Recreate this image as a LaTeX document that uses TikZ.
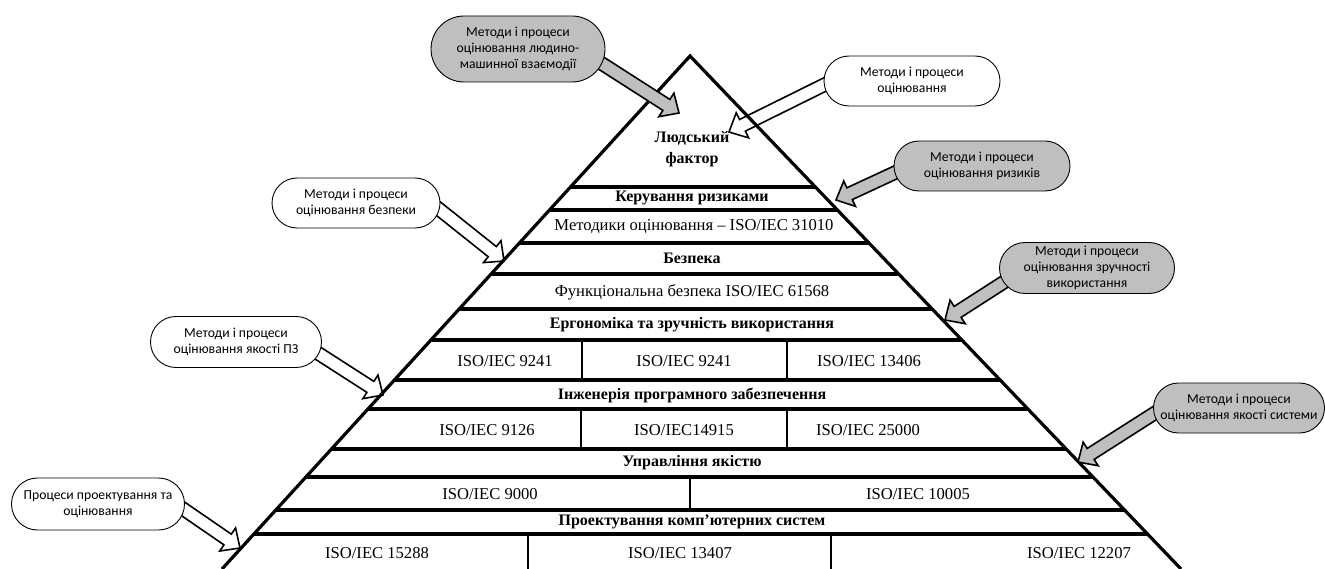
\documentclass[tikz,border=0pt]{standalone}
\usepackage{fontspec}
\setmainfont{Liberation Serif}
\newfontfamily\calfont{Carlito}
\usetikzlibrary{calc,shapes.misc}

\definecolor{calgrey}{RGB}{191,191,191}

\tikzset{
  rule/.style={line width=3.2pt},
  side/.style={line width=3.2pt, line join=miter},
  divider/.style={line width=2.6pt},
  rowtext/.style={font=\fontsize{16.6}{21}\selectfont, inner sep=0pt, align=center},
  rowhead/.style={font=\fontsize{16}{21}\selectfont\bfseries, inner sep=0pt, align=center},
  callout/.style={rounded rectangle, draw, line width=0.9pt, align=center, inner sep=0pt,
    font=\calfont\fontsize{13.7}{16}\selectfont},
  greycall/.style={callout, fill=calgrey},
  whitecall/.style={callout, fill=white},
  greyarrow/.style={draw, line width=1.6pt, fill=calgrey, line join=miter},
  whitearrow/.style={draw, line width=1.6pt, line join=miter},
}

% block arrow: #1 style, #2 tail coordinate, #3 tip coordinate
\newcommand\blockarrow[3]{%
  \coordinate (hb) at ($(#3)!15pt!(#2)$);
  \draw[#1] ($(#2)!6.5pt!90:(#3)$) -- ($(hb)!6.5pt!90:(#3)$) -- ($(hb)!14pt!90:(#3)$)
    -- (#3) -- ($(hb)!14pt!-90:(#3)$) -- ($(hb)!6.5pt!-90:(#3)$)
    -- ($(#2)!6.5pt!-90:(#3)$) -- cycle;
}

\begin{document}
\begin{tikzpicture}[x=1pt,y=-1pt]
\useasboundingbox (0,0) rectangle (1325,569);

% pyramid outline
\coordinate (apex) at (690,56);
\coordinate (bl) at (222,569);
\coordinate (br) at (1181,569);

% layer rules and cell dividers, kept inside the pyramid
\begin{scope}
  \clip (apex) -- (bl) -- (br) -- cycle;
  \foreach \yy in {187,210,243,274,309,340,380,409,449,477,510,534}
    \draw[rule] (0,\yy) -- (1325,\yy);
  \foreach \xx/\ya/\yb in {582/340/380, 787/340/380, 581/409/449, 787/409/449,
                           690/477/510, 528/534/575, 831/534/575}
    \draw[divider] (\xx,\ya) -- (\xx,\yb);
\end{scope}
\draw[side] (bl) -- (apex) -- (br);

% layer texts
\node[rowhead] (hf) at (692,149) {Людський\\фактор};
\node[rowhead] (rm) at (692,198) {Керування ризиками};
\node[rowtext] (me) at (694,227) {Методики оцінювання – ISO/IEC 31010};
\node[rowhead] (sf) at (692,258) {Безпека};
\node[rowtext] (fs) at (692,292) {Функціональна безпека ISO/IEC 61568};
\node[rowhead] (er) at (692,325) {Ергономіка та зручність використання};
\node[rowtext] (e1) at (505,361) {ISO/IEC 9241};
\node[rowtext] (e2) at (684,361) {ISO/IEC 9241};
\node[rowtext] (e3) at (869,361) {ISO/IEC 13406};
\node[rowhead] (se) at (692,395) {Інженерія програмного забезпечення};
\node[rowtext] (s1) at (487,430) {ISO/IEC 9126};
\node[rowtext] (s2) at (684,430) {ISO/IEC14915};
\node[rowtext] (s3) at (868,430) {ISO/IEC 25000};
\node[rowhead] (qm) at (692,463) {Управління якістю};
\node[rowtext] (q1) at (490,494) {ISO/IEC 9000};
\node[rowtext] (q2) at (918,494) {ISO/IEC 10005};
\node[rowhead] (cs) at (692,522) {Проектування комп’ютерних систем};
\node[rowtext] (c1) at (377,553) {ISO/IEC 15288};
\node[rowtext] (c2) at (680,553) {ISO/IEC 13407};
\node[rowtext] (c3) at (1079,553) {ISO/IEC 12207};

% arrow ends
\coordinate (t1) at (590,56);   \coordinate (h1) at (679,113);
\coordinate (t2) at (836,79);   \coordinate (h2) at (729,132);
\coordinate (t3) at (905,168);  \coordinate (h3) at (836,200);
\coordinate (t4) at (430,202);  \coordinate (h4) at (504,261);
\coordinate (t5) at (1015,275); \coordinate (h5) at (945,320);
\coordinate (t6) at (313,350);  \coordinate (h6) at (383,395);
\coordinate (t7) at (1158,411); \coordinate (h7) at (1078,462);
\coordinate (t8) at (176,504);  \coordinate (h8) at (240,548);

\blockarrow{greyarrow}{t1}{h1}
\blockarrow{whitearrow}{t2}{h2}
\blockarrow{greyarrow}{t3}{h3}
\blockarrow{whitearrow}{t4}{h4}
\blockarrow{greyarrow}{t5}{h5}
\blockarrow{whitearrow}{t6}{h6}
\blockarrow{greyarrow}{t7}{h7}
\blockarrow{whitearrow}{t8}{h8}

% callouts
\node[greycall, minimum width=174pt, minimum height=66pt] (k1) at (518,49)
  {Методи і процеси\\оцінювання людино-\\машинної взаємодії};
\node[whitecall, minimum width=176pt, minimum height=50pt] (k2) at (912,81)
  {Методи і процеси\\оцінювання};
\node[greycall, minimum width=176pt, minimum height=50pt] (k3) at (982,166)
  {Методи і процеси\\оцінювання ризиків};
\node[whitecall, minimum width=168pt, minimum height=50pt] (k4) at (356,203)
  {Методи і процеси\\оцінювання безпеки};
\node[greycall, minimum width=175pt, minimum height=51pt] (k5) at (1087,268)
  {Методи і процеси\\оцінювання зручності\\використання};
\node[whitecall, minimum width=171pt, minimum height=51pt] (k6) at (236,342)
  {Методи і процеси\\оцінювання якості ПЗ};
\node[greycall, minimum width=171pt, minimum height=50pt] (k7) at (1239,408)
  {Методи і процеси\\оцінювання якості системи};
\node[whitecall, minimum width=173pt, minimum height=52pt] (k8) at (98,504)
  {Процеси проектування та\\оцінювання};
\end{tikzpicture}
\end{document}
